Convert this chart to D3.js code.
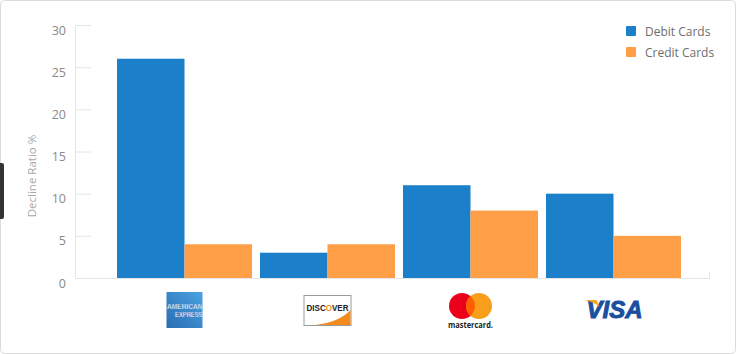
<!DOCTYPE html>
<html>
<head>
<meta charset="utf-8">
<script src="https://cdn.jsdelivr.net/npm/d3@7/dist/d3.min.js"></script>
<style>
  html, body { margin: 0; padding: 0; background: #fff; }
  svg { display: block; font-family: "Open Sans", Lato, sans-serif; }
</style>
</head>
<body>
<svg id="chart" width="736" height="354"></svg>
<script>
const categories = ["amex", "discover", "mastercard", "visa"];
const seriesNames = ["Debit Cards", "Credit Cards"];
const debitValues = [26, 3, 11, 10];
const creditValues = [4, 4, 8, 5];
const yTicks = [0, 5, 10, 15, 20, 25, 30];
const yTitle = "Decline Ratio %";

const colors = { "Debit Cards": "#1c7fc9", "Credit Cards": "#fe9f48" };

const svg = d3.select("#chart");

// frame
svg.append("rect").attr("x", 0.5).attr("y", 0.5).attr("width", 735).attr("height", 353)
  .attr("rx", 4).attr("fill", "#fff").attr("stroke", "#dcdcdc");
svg.append("rect").attr("x", -3).attr("y", 163).attr("width", 7).attr("height", 56)
  .attr("rx", 2).attr("fill", "#333");

const plotLeft = 75, plotRight = 710, plotTop = 25, plotBottom = 278;

const x = d3.scaleBand().domain(categories).range([113, 685])
  .paddingInner(0.056).paddingOuter(0.028);
const xs = d3.scaleBand().domain(seriesNames).range([0, x.bandwidth()]);
const y = d3.scaleLinear().domain([0, 30]).range([plotBottom, plotTop]);

// y axis
const yAxis = svg.append("g").attr("transform", `translate(${plotLeft},0)`)
  .call(d3.axisRight(y).tickValues(yTicks).tickSize(16).tickFormat(""));
yAxis.select(".domain").attr("stroke", "#e6e6e6");
yAxis.selectAll(".tick line").attr("stroke", "#e6e6e6");

svg.append("g").selectAll("text").data(yTicks).join("text")
  .attr("x", 66).attr("y", d => y(d) + 9.5)
  .attr("text-anchor", "end").attr("font-size", 12.5).attr("fill", "#8a8a8a")
  .text(d => d);

svg.append("text")
  .attr("transform", "translate(36,176) rotate(-90)")
  .attr("text-anchor", "middle").attr("font-size", 11.5).attr("fill", "#a8a8a8")
  .text(yTitle);

// x axis baseline
svg.append("line").attr("x1", plotLeft).attr("x2", plotRight).attr("y1", plotBottom + 0.5).attr("y2", plotBottom + 0.5)
  .attr("stroke", "#e6e6e6");
svg.append("line").attr("x1", plotRight - 0.5).attr("x2", plotRight - 0.5).attr("y1", plotBottom - 6).attr("y2", plotBottom + 1)
  .attr("stroke", "#e6e6e6");

// bars
const rows = categories.map((c, i) => ({ cat: c, values: [
  { key: "Debit Cards", v: debitValues[i] },
  { key: "Credit Cards", v: creditValues[i] }
]}));

const groups = svg.append("g").selectAll("g").data(rows).join("g")
  .attr("transform", d => `translate(${x(d.cat)},0)`);
groups.selectAll("rect").data(d => d.values).join("rect")
  .attr("x", d => xs(d.key)).attr("width", xs.bandwidth())
  .attr("y", d => y(d.v)).attr("height", d => y(0) - y(d.v))
  .attr("fill", d => colors[d.key]);

// x axis with logos
const xAxis = svg.append("g").attr("transform", `translate(0,${plotBottom})`)
  .call(d3.axisBottom(x).tickSize(0).tickFormat(""));
xAxis.select(".domain").remove();

const defs = svg.append("defs");
const g1 = defs.append("linearGradient").attr("id", "amexGrad").attr("x1", 0).attr("y1", 1).attr("x2", 1).attr("y2", 0);
g1.append("stop").attr("offset", "0%").attr("stop-color", "#2a6cb3");
g1.append("stop").attr("offset", "100%").attr("stop-color", "#4aa3e0");

const g2 = defs.append("linearGradient").attr("id", "discGrad").attr("gradientUnits", "userSpaceOnUse")
  .attr("x1", -21).attr("y1", 0).attr("x2", 21).attr("y2", 0);
[[0, "#222"], [0.457, "#222"], [0.457, "#f28a1e"], [0.607, "#f28a1e"], [0.607, "#222"], [1, "#222"]]
  .forEach(([o, c]) => g2.append("stop").attr("offset", o).attr("stop-color", c));

xAxis.selectAll(".tick").each(function(d) {
  const t = d3.select(this);
  if (d === "amex") {
    t.append("rect").attr("x", -18).attr("y", 14).attr("width", 36).attr("height", 36).attr("fill", "url(#amexGrad)");
    t.append("text").attr("x", -17.5).attr("y", 30.5).attr("text-anchor", "start")
      .attr("font-size", 8).attr("font-weight", 700)
      .attr("font-family", "'Liberation Sans', Arial, sans-serif")
      .attr("fill", "#fff").attr("stroke", "#2f74b8").attr("stroke-width", 0.25)
      .attr("textLength", 35.5).attr("lengthAdjust", "spacingAndGlyphs").text("AMERICAN");
    t.append("text").attr("x", -9.5).attr("y", 38.5).attr("text-anchor", "start")
      .attr("font-size", 8).attr("font-weight", 700)
      .attr("font-family", "'Liberation Sans', Arial, sans-serif")
      .attr("fill", "#fff").attr("stroke", "#2f74b8").attr("stroke-width", 0.25)
      .attr("textLength", 27.5).attr("lengthAdjust", "spacingAndGlyphs").text("EXPRESS");
  } else if (d === "discover") {
    t.append("rect").attr("x", -23.5).attr("y", 17.5).attr("width", 47).attr("height", 30)
      .attr("fill", "#fff").attr("stroke", "#9a9a9a");
    t.append("path").attr("d", "M -12 47 Q 12 44 23 32 L 23 47 Z").attr("fill", "#f28a1e");
    t.append("text").attr("x", -21).attr("y", 33).attr("text-anchor", "start")
      .attr("font-size", 9.5).attr("font-weight", 700).attr("fill", "url(#discGrad)")
      .attr("font-family", "'Liberation Sans', Arial, sans-serif")
      .attr("textLength", 42).attr("lengthAdjust", "spacingAndGlyphs").text("DISCOVER");
  } else if (d === "mastercard") {
    t.append("circle").attr("cx", -8.5).attr("cy", 28).attr("r", 13).attr("fill", "#eb001b");
    t.append("circle").attr("cx", 8.5).attr("cy", 28).attr("r", 13).attr("fill", "#f79e1b");
    t.append("path").attr("d", () => {
      const r = 13, dx = 8.5, h = Math.sqrt(r * r - dx * dx);
      return `M 0 ${28 - h} A ${r} ${r} 0 0 1 0 ${28 + h} A ${r} ${r} 0 0 1 0 ${28 - h} Z`;
    }).attr("fill", "#ff5f00");
    t.append("text").attr("x", -22.5).attr("y", 50).attr("text-anchor", "start")
      .attr("font-size", 8.5).attr("font-weight", 700).attr("fill", "#231f20")
      .attr("font-family", "'Open Sans', sans-serif")
      .attr("textLength", 45).attr("lengthAdjust", "spacingAndGlyphs").text("mastercard.");
  } else if (d === "visa") {
    t.append("text").attr("x", -27).attr("y", 40).attr("text-anchor", "start")
      .attr("font-size", 23).attr("font-weight", 700).attr("font-style", "italic")
      .attr("fill", "#1a4f9f").attr("stroke", "#1a4f9f").attr("stroke-width", 0.9)
      .attr("font-family", "'Liberation Sans', Arial, sans-serif")
      .attr("textLength", 56).attr("lengthAdjust", "spacingAndGlyphs").text("VISA");
    t.append("path").attr("d", "M -29 22 L -17 22 L -14 29 Q -19 24 -29 22 Z").attr("fill", "#f7a81b");
  }
});

// legend
const legend = svg.append("g").selectAll("g").data(seriesNames).join("g")
  .attr("transform", (d, i) => `translate(626,${26 + i * 21})`);
legend.append("rect").attr("width", 10).attr("height", 10).attr("rx", 1).attr("fill", d => colors[d]);
legend.append("text").attr("x", 19).attr("y", 9.5).attr("font-size", 12).attr("fill", "#6e6e6e").text(d => d);
</script>
</body>
</html>
